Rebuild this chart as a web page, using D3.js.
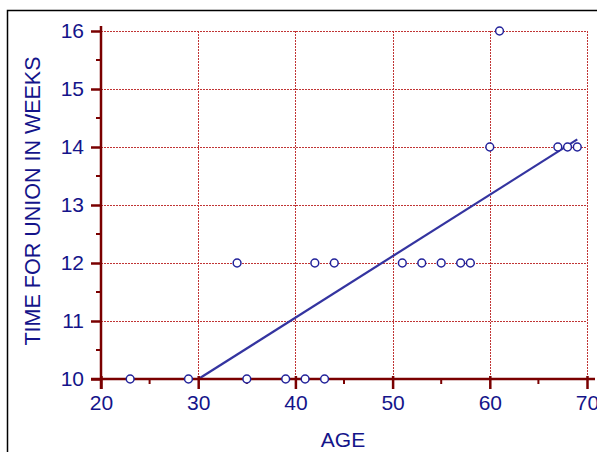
<!DOCTYPE html>
<html>
<head>
<meta charset="utf-8">
<script src="https://cdn.jsdelivr.net/npm/d3@7"></script>
<style>
  body { margin: 0; background: #fff; }
  svg { display: block; font-family: "Liberation Sans", Arial, sans-serif; }
</style>
</head>
<body>
<div id="chart"></div>
<script>
const ages  = [23, 29, 35, 39, 41, 43, 34, 42, 44, 51, 53, 55, 57, 58, 60, 67, 68, 69, 61];
const weeks = [10, 10, 10, 10, 10, 10, 12, 12, 12, 12, 12, 12, 12, 12, 14, 14, 14, 14, 16];
const xTicks = [20, 30, 40, 50, 60, 70];
const yTicks = [10, 11, 12, 13, 14, 15, 16];

const W = 597, H = 452;
const axisCol = "#7a0000", textCol = "#14148a", markCol = "#22229a", gridCol = "#c03434";

const x = d3.scaleLinear().domain([20, 70]).range([101, 587]);
const y = d3.scaleLinear().domain([10, 16]).range([379, 31]);

const svg = d3.select("#chart").append("svg")
    .attr("width", W).attr("height", H);

// frame (runs off the right and bottom edge)
svg.append("rect")
    .attr("x", 7.5).attr("y", 10.5)
    .attr("width", W + 20).attr("height", H + 20)
    .attr("fill", "none").attr("stroke", "#000").attr("stroke-width", 1.5);

// grid
const grid = svg.append("g")
    .attr("stroke", gridCol).attr("stroke-width", 1)
    .attr("shape-rendering", "crispEdges")
    .attr("stroke-dasharray", "2,1");
grid.selectAll(".gx").data(xTicks.slice(1)).enter().append("line")
    .attr("x1", d => x(d) + 0.5).attr("x2", d => x(d) + 0.5)
    .attr("y1", y(16)).attr("y2", y(10));
grid.selectAll(".gy").data(yTicks.slice(1)).enter().append("line")
    .attr("x1", x(20)).attr("x2", x(70))
    .attr("y1", d => y(d) + 0.5).attr("y2", d => y(d) + 0.5);

// regression line (least squares), clipped at y = 10
const mx = d3.mean(ages), my = d3.mean(weeks);
const slope = d3.sum(ages, (a, i) => (a - mx) * (weeks[i] - my)) / d3.sum(ages, a => (a - mx) ** 2);
const icpt = my - slope * mx;
const x0 = (10 - icpt) / slope, x1 = d3.max(ages);
svg.append("line")
    .attr("x1", x(x0)).attr("y1", y(slope * x0 + icpt))
    .attr("x2", x(x1)).attr("y2", y(slope * x1 + icpt))
    .attr("stroke", "#3434a0").attr("stroke-width", 2.2);

// axes
const xAxis = d3.axisBottom(x).tickValues(xTicks).tickSize(10).tickPadding(6)
    .tickFormat(d3.format("d"));
const yAxis = d3.axisLeft(y).tickValues(yTicks).tickSize(10).tickPadding(7)
    .tickFormat(d3.format("d"));

const gx = svg.append("g").attr("transform", `translate(0,${y(10)})`).call(xAxis);
const gy = svg.append("g").attr("transform", `translate(${x(20)},0)`).call(yAxis);

[gx, gy].forEach(g => {
  g.attr("font-size", null).attr("font-family", null);
  g.select(".domain").remove();
  g.selectAll(".tick line").attr("stroke", axisCol).attr("stroke-width", 2.5);
  g.selectAll(".tick text").attr("fill", textCol)
      .style("font-size", "21px")
      .style("font-family", "Liberation Sans, Arial, sans-serif");
});
gx.selectAll(".tick line").attr("y1", -3);

// axis lines
svg.append("line").attr("x1", x(20) - 10).attr("x2", 595)
    .attr("y1", y(10)).attr("y2", y(10))
    .attr("stroke", axisCol).attr("stroke-width", 2.5);
svg.append("line").attr("x1", x(20)).attr("x2", x(20))
    .attr("y1", 26).attr("y2", y(10) + 10)
    .attr("stroke", axisCol).attr("stroke-width", 2.5);

// minor ticks
const minorX = d3.range(25, 70, 10);
const minorY = d3.range(10.5, 16, 1);
svg.selectAll(".mx").data(minorX).enter().append("line")
    .attr("x1", d => x(d)).attr("x2", d => x(d))
    .attr("y1", y(10)).attr("y2", y(10) + 5)
    .attr("stroke", axisCol).attr("stroke-width", 2);
svg.selectAll(".my").data(minorY).enter().append("line")
    .attr("x1", x(20) - 5).attr("x2", x(20))
    .attr("y1", d => y(d)).attr("y2", d => y(d))
    .attr("stroke", axisCol).attr("stroke-width", 2);

// points
svg.selectAll(".pt").data(ages).enter().append("circle")
    .attr("cx", d => x(d)).attr("cy", (d, i) => y(weeks[i]))
    .attr("r", 3.9)
    .attr("fill", "#fff").attr("stroke", markCol).attr("stroke-width", 1.5);

// titles
svg.append("text")
    .attr("x", 343).attr("y", 447)
    .attr("text-anchor", "middle").attr("fill", textCol)
    .style("font-size", "21px")
    .text("AGE");
svg.append("text")
    .attr("transform", `translate(40,${(y(10) + y(16)) / 2 - 4}) rotate(-90)`)
    .attr("text-anchor", "middle").attr("fill", textCol)
    .style("font-size", "21.5px")
    .text("TIME FOR UNION IN WEEKS");
</script>
</body>
</html>
